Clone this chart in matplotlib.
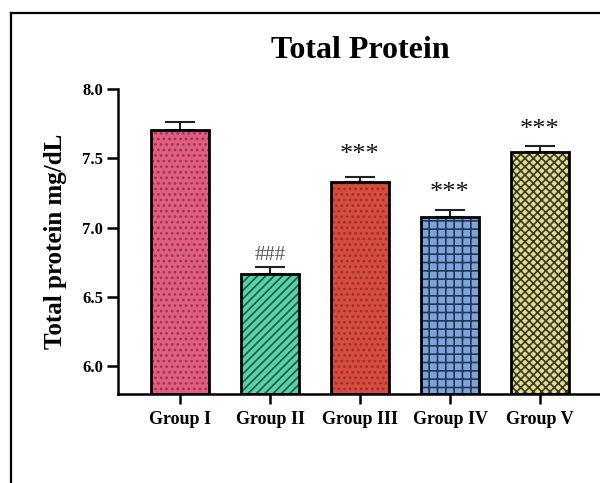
import numpy as np
import matplotlib
matplotlib.use("Agg")
import matplotlib.pyplot as plt
from matplotlib.lines import Line2D

groups = ["Group I", "Group II", "Group III", "Group IV", "Group V"]
means = [7.70, 6.665, 7.33, 7.08, 7.545]
sem = [0.06, 0.05, 0.035, 0.05, 0.04]
marks = ["", "###", "***", "***", "***"]
mark_y = [None, 6.80, 7.52, 7.25, 7.70]

fills = ["#E45C7E", "#4DD6A9", "#DA4A3F", "#7BA4DC", "#E2DC8C"]
hatch_cols = ["#8E3F52", "#3E4A48", "#8C3A30", "#253650", "#3A3828"]
hatches = ["...", "////", "...", "++", "xxxx"]

plt.rcParams['font.family'] = ['Liberation Serif', 'DejaVu Serif']
plt.rcParams['hatch.linewidth'] = 1.2

fig = plt.figure(figsize=(6, 4.83), dpi=100)
ax = fig.add_axes([0.197, 0.184, 0.803, 0.632])

x = np.arange(len(groups))
low = 5.8
heights = [m - low for m in means]

# hatched fill first, then the black outline on top
ax.bar(x, heights, bottom=low, width=0.64, color=fills,
       edgecolor=hatch_cols, linewidth=0, zorder=2)
for i in range(len(x)):
    ax.bar(x[i], heights[i], bottom=low, width=0.64, color="none",
           edgecolor=hatch_cols[i], hatch=hatches[i], linewidth=0, zorder=3)
ax.bar(x, heights, bottom=low, width=0.64, fill=False,
       edgecolor="black", linewidth=2, zorder=4)

ax.errorbar(x, means, yerr=[[0] * len(x), sem], fmt="none", ecolor="#222222",
            elinewidth=1.5, capsize=10.5, capthick=1.5, zorder=1)

for i, t in enumerate(marks):
    if t:
        if t == "###":
            ax.text(x[i], mark_y[i], t, ha="center", va="center",
                    fontsize=15, color="#555555")
        else:
            ax.text(x[i], mark_y[i], t, ha="center", va="center",
                    fontsize=19, color="#111111")

ax.set_xlim(-0.689, 4.667)
ax.set_ylim(low, 8.0)
ax.set_yticks([6.0, 6.5, 7.0, 7.5, 8.0])
ax.set_yticklabels(["6.0", "6.5", "7.0", "7.5", "8.0"], fontweight="bold", fontsize=12)
ax.set_xticks(x)
ax.set_xticklabels(groups, fontweight="bold", fontsize=13)
ax.tick_params(axis="y", length=8, width=1.8, pad=3)
ax.tick_params(axis="x", length=7, width=1.8, pad=5)

for s in ["top", "right"]:
    ax.spines[s].set_visible(False)
for s in ["left", "bottom"]:
    ax.spines[s].set_linewidth(1.8)

ax.set_ylabel("Total protein mg/dL", fontsize=18, fontweight="bold", labelpad=11)
fig.text(0.6, 0.895, "Total Protein", ha="center", va="center",
         fontsize=23, fontweight="bold")

# outer frame, cut at the right and bottom
fig.add_artist(Line2D([0.019, 0.019], [0, 0.973], color="black", lw=1.6))
fig.add_artist(Line2D([0.019, 1.0], [0.973, 0.973], color="black", lw=1.6))

fig.savefig("out.png", dpi=100)
